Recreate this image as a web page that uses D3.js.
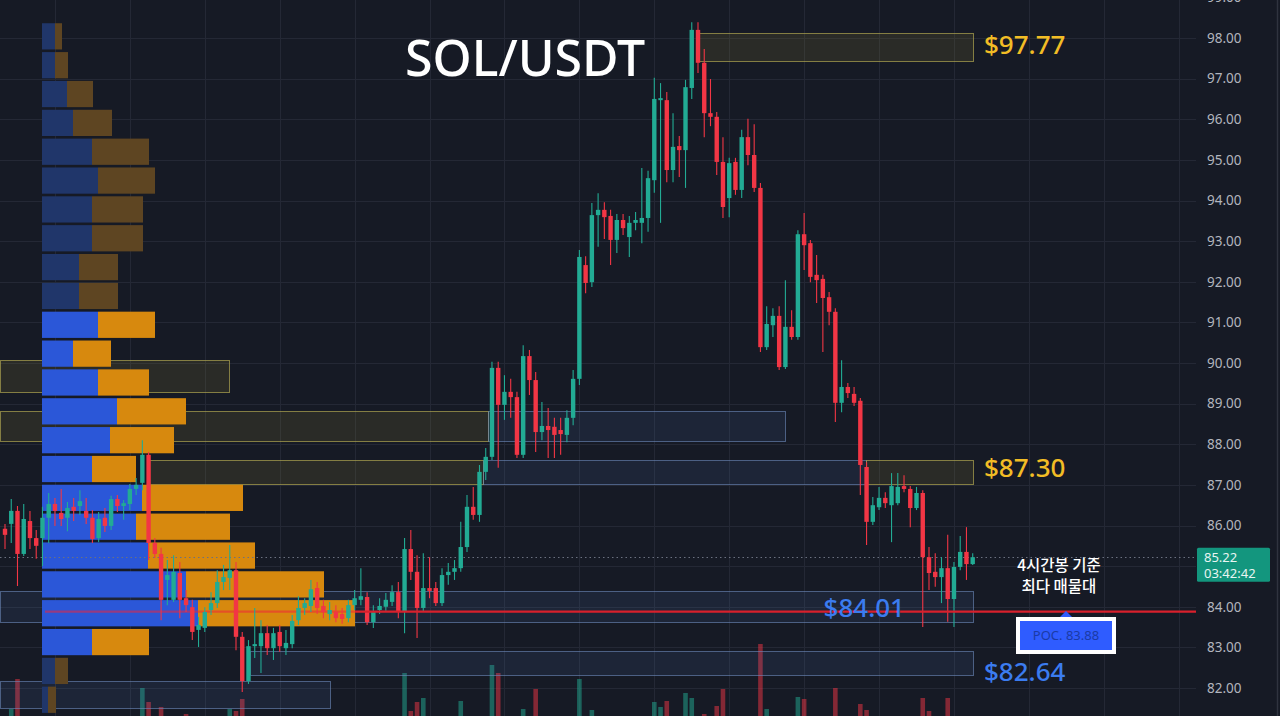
<!DOCTYPE html>
<html><head><meta charset="utf-8">
<script src="https://cdn.jsdelivr.net/npm/d3@7"></script>
<style>html,body{margin:0;padding:0;background:#161a25;overflow:hidden}svg{display:block}</style>
</head><body><svg id="c" width="1280" height="716"></svg>
<script>
// ---- candle data (4h SOL/USDT) ----
const open = [85.92,86.04,86.36,85.30,86.11,85.69,85.69,86.19,86.53,86.31,86.19,86.46,86.48,86.36,86.19,85.69,86.19,85.99,86.65,86.48,
86.53,86.90,87.05,87.74,85.57,85.30,84.66,84.17,84.83,84.21,83.99,83.43,83.48,83.92,84.09,84.61,84.71,84.90,83.26,82.17,
83.03,83.03,83.35,82.98,83.38,82.98,83.08,83.67,83.97,84.02,84.46,84.02,83.82,83.87,83.82,83.72,84.04,84.17,84.24,83.62,
83.92,84.00,84.12,84.36,83.87,85.42,84.86,83.97,84.46,84.46,84.09,84.78,84.86,84.95,85.47,86.46,86.26,87.32,87.69,89.88,
88.97,89.29,89.16,87.74,90.17,89.58,88.30,88.45,88.43,88.35,88.23,88.65,89.61,92.41,91.99,93.64,93.77,93.62,93.03,93.52,
93.10,93.45,93.45,93.57,94.50,96.47,96.47,94.75,95.34,95.24,96.77,98.20,97.39,96.15,96.06,94.95,94.06,94.95,94.26,95.56,
95.12,94.31,90.39,90.93,91.16,89.90,90.89,90.64,93.17,92.95,92.17,92.07,91.62,91.26,89.02,89.41,89.24,89.07,87.44,86.09,
86.45,86.68,86.50,86.55,86.97,86.90,86.43,86.80,85.22,84.86,84.73,84.95,84.19,84.98,85.35,85.05];
const high = [86.04,86.65,86.48,86.53,86.36,85.89,86.46,86.80,86.68,86.90,86.58,86.68,86.87,86.68,86.38,86.33,86.43,86.73,86.75,86.63,
87.02,87.17,88.10,87.81,85.69,85.45,85.15,85.27,85.10,84.41,84.17,83.75,83.99,84.36,84.90,85.03,85.52,85.10,83.38,83.18,
83.97,83.67,83.55,83.48,83.55,83.43,83.80,84.26,84.21,84.66,84.61,84.17,84.12,84.04,83.97,84.17,84.41,84.95,84.36,84.04,
84.21,84.34,84.53,84.61,85.69,85.89,85.27,85.32,85.22,84.61,84.95,85.08,85.15,86.09,86.75,86.95,87.49,87.91,90.03,90.03,
89.70,89.61,89.29,90.44,90.32,89.78,89.04,88.89,88.65,88.65,88.84,89.83,92.78,92.63,93.94,94.18,93.96,93.77,93.67,93.67,
93.62,93.72,94.80,94.73,97.02,96.89,96.67,96.15,95.59,96.97,98.39,98.39,97.73,96.99,96.18,95.56,95.05,95.05,95.74,96.01,
95.88,94.43,91.40,91.35,91.40,92.04,91.30,93.27,93.69,93.03,92.66,92.17,91.75,91.35,90.07,89.51,89.41,89.14,87.56,86.70,
86.95,86.82,87.29,87.29,87.24,86.97,86.95,86.87,85.47,85.32,85.22,85.77,85.10,85.74,85.96,85.32];
const low = [85.42,85.57,84.51,85.25,85.42,85.18,85.00,85.57,85.99,85.99,85.86,86.11,86.26,86.04,85.57,85.59,85.84,85.89,86.33,86.14,
86.38,86.75,86.87,85.15,85.20,83.67,84.04,84.12,83.72,83.87,83.18,83.01,83.38,83.80,83.97,84.41,84.41,82.93,81.90,82.10,
82.74,82.37,82.81,82.69,82.89,82.81,82.98,83.55,83.80,83.87,83.82,83.72,83.67,83.62,83.58,83.62,83.92,84.04,83.55,83.48,
83.82,83.90,84.02,83.72,83.35,84.66,83.23,83.87,84.21,84.02,84.02,84.54,84.66,84.86,85.35,86.14,86.09,87.12,87.61,87.42,
88.60,88.65,87.66,87.66,89.21,87.81,88.10,87.66,87.66,87.74,88.05,88.47,89.46,91.72,91.87,92.86,93.05,92.41,92.71,93.15,
92.61,93.27,92.95,93.23,94.19,93.45,94.45,94.45,94.58,94.31,96.50,97.14,95.56,95.83,94.63,93.57,93.59,94.14,94.06,94.87,
94.21,90.27,90.32,90.64,89.83,89.85,90.57,90.57,92.29,91.99,91.48,90.27,90.93,88.55,88.79,89.14,88.94,86.75,85.52,86.01,
86.38,86.43,85.59,86.50,86.82,85.96,86.38,83.50,84.41,84.49,84.09,83.63,83.50,84.90,84.66,85.03];
const close = [85.77,86.36,85.30,86.16,85.69,85.50,86.19,86.53,86.36,86.16,86.43,86.36,86.60,86.19,85.67,86.16,85.99,86.65,86.48,86.55,
86.90,87.00,87.74,85.57,85.30,84.17,84.78,84.86,84.17,84.04,83.38,83.55,83.87,84.09,84.61,84.73,84.90,83.26,82.17,83.03,
83.08,83.35,82.98,83.35,83.03,83.11,83.65,83.97,84.09,84.43,83.97,83.87,83.92,83.72,83.70,84.04,84.21,84.26,83.62,83.87,
84.02,84.17,84.36,83.87,85.42,84.86,83.97,84.46,84.39,84.09,84.78,84.86,84.95,85.47,86.46,86.26,87.32,87.69,89.88,88.97,
89.29,89.16,87.74,90.17,89.58,88.30,88.45,88.35,88.23,88.25,88.65,89.61,92.61,91.97,93.64,93.77,93.59,93.03,93.52,93.32,
93.45,93.52,93.57,94.55,96.50,96.52,94.75,95.32,95.24,96.79,98.20,97.39,96.15,96.06,94.95,93.84,94.92,94.26,95.56,95.12,
94.31,90.39,90.96,91.16,89.90,90.89,90.64,93.17,92.90,92.12,92.04,91.60,91.26,89.02,89.41,89.26,89.02,87.49,86.09,86.50,
86.68,86.55,86.97,86.95,86.90,86.43,86.80,85.22,84.83,84.73,84.95,84.19,84.98,85.35,85.05,85.22];
const volume = [12,31,61,14,10,9,15,11,13,10,12,9,11,14,16,10,12,15,9,11,
13,18,52,38,17,33,14,12,15,26,18,13,12,11,15,12,31,29,41,20,
16,18,14,12,13,11,15,17,12,19,14,11,10,12,11,13,12,16,14,12,
11,13,15,17,67,29,38,42,15,13,16,12,14,39,22,17,20,18,75,67,
18,16,21,31,19,51,16,14,13,12,15,20,61,22,30,16,14,18,15,13,
12,14,19,20,38,33,39,16,18,47,42,21,26,15,34,51,17,14,19,16,
18,96,31,14,20,18,16,43,41,17,15,19,14,52,18,13,12,36,30,17,
15,13,19,16,14,18,15,42,29,16,18,42,20,17,15,12];
const priceTicks = [82,83,84,85,86,87,88,89,90,91,92,93,94,95,96,97,98,99];
const lastPrice = 85.22;
const countdown = "03:42:42";
const pocPrice = 83.88;
// ---- volume profile (24 rows, top → bottom) ----
const profileTop = 98.393, profileStep = 0.71;
const profileBuy  = [13,13,25,31,50,56,50,50,37,37,56,31,56,75,68,50,100,94,106,144,156,50,13,6];
const profileSell = [7,13,26,39,57,57,51,51,39,39,57,38,51,69,64,44,101,94,107,138,157,57,13,8];
const valueAreaFirst = 10, valueAreaLast = 21;
// ---- zones (price range, candle-index range, kind) ----
const zoneHigh  = [98.12, 90.07, 88.82, 88.82, 87.61, 87.61, 87.61, 84.39, 82.91, 82.17];
const zoneLow   = [97.43, 89.29, 88.08, 88.08, 87.02, 87.02, 87.02, 83.63, 82.32, 81.51];
const zoneStart = [110.8, -0.8, -0.8, 77.4, 22.9, 76.6, 137.9, -0.8, 39.2, -0.8];
const zoneEnd   = [155, 35.9, 77.4, 124.9, 76.6, 137.9, 155, 155, 155, 52.1];
const zoneKind  = ["sell","sell","sell","buy","sell","buy","sell","buy","buy","buy"];
const levelLabels = ["$97.77","$87.30","$84.01","$82.64"];

const svg = d3.select("#c");
const W = 1280, H = 716, plotRight = 1196;
const x = d3.scaleLinear().domain([0, open.length - 1]).range([5, 972.7]);
const y = d3.scaleLinear().domain([82, 98]).range([688, 38]);
const yv = d3.scaleLinear().domain([0, 100]).range([740, 640]);
const px = d3.scaleLinear().domain([0, 100]).range([42, 142]);
const crisp = v => Math.round(v) + 0.5;

svg.append("rect").attr("width", W).attr("height", H).attr("fill", "#161a25");

// grid
const g = svg.append("g");
g.selectAll("line.h").data(priceTicks).join("line")
  .attr("x1", 0).attr("x2", plotRight).attr("y1", d => crisp(y(d))).attr("y2", d => crisp(y(d)))
  .attr("stroke", "#242835").attr("stroke-width", 1);
const vIdx = d3.range(8, 200, 12).filter(i => x(i) < plotRight);
g.selectAll("line.v").data(vIdx).join("line")
  .attr("x1", d => crisp(x(d))).attr("x2", d => crisp(x(d))).attr("y1", 0).attr("y2", H)
  .attr("stroke", "#242835").attr("stroke-width", 1);

// volume bars
const data = open.map((o, i) => ({i, o, h: high[i], l: low[i], c: close[i], v: volume[i]}));
svg.append("g").selectAll("rect").data(data).join("rect")
  .attr("x", d => x(d.i) - 2.3).attr("width", 4.6)
  .attr("y", d => yv(d.v)).attr("height", d => yv(0) - yv(d.v))
  .attr("fill", d => d.c >= d.o ? "#22ab94" : "#f23645").attr("opacity", 0.5);

// zones
const zones = zoneHigh.map((hi, k) => ({hi, lo: zoneLow[k], s: zoneStart[k], e: zoneEnd[k], kind: zoneKind[k]}));
svg.append("g").selectAll("rect").data(zones).join("rect")
  .attr("x", d => Math.round(x(d.s)) + 0.5).attr("width", d => Math.round(x(d.e) - x(d.s)))
  .attr("y", d => Math.round(y(d.hi)) + 0.5).attr("height", d => Math.round(y(d.lo) - y(d.hi)))
  .attr("fill", d => d.kind === "sell" ? "rgba(140,130,55,0.17)" : "rgba(80,120,190,0.12)")
  .attr("stroke", d => d.kind === "sell" ? "rgba(175,165,80,0.7)" : "rgba(110,140,190,0.6)")
  .attr("stroke-width", 1);

// volume profile
const rows = profileBuy.map((b, k) => ({k, b, s: profileSell[k],
  top: profileTop - k * profileStep, bot: profileTop - (k + 1) * profileStep,
  va: k >= valueAreaFirst && k <= valueAreaLast}));
const pg = svg.append("g");
pg.selectAll("rect.b").data(rows).join("rect")
  .attr("x", px(0)).attr("width", d => px(d.b) - px(0))
  .attr("y", d => y(d.top) + 1.2).attr("height", d => y(d.bot) - y(d.top) - 2.6)
  .attr("fill", d => d.va ? "#2b57d8" : "#20366a");
pg.selectAll("rect.s").data(rows).join("rect")
  .attr("x", d => px(d.b)).attr("width", d => px(d.b + d.s) - px(d.b))
  .attr("y", d => y(d.top) + 1.2).attr("height", d => y(d.bot) - y(d.top) - 2.6)
  .attr("fill", d => d.va ? "#d7890e" : "#5e4522");
// POC line inside profile
const pocRow = rows.find(r => pocPrice <= r.top && pocPrice > r.bot);
svg.append("line").attr("x1", px(0) + 3).attr("x2", px(pocRow.b + pocRow.s))
  .attr("y1", y(pocPrice)).attr("y2", y(pocPrice))
  .attr("stroke", "#f0243a").attr("stroke-width", 2.2).attr("opacity", 0.55);

// last price dotted line
svg.append("line").attr("x1", 0).attr("x2", plotRight)
  .attr("y1", crisp(y(lastPrice))).attr("y2", crisp(y(lastPrice)))
  .attr("stroke", "#6b7180").attr("stroke-width", 1).attr("stroke-dasharray", "1.5,3");

// candles
const cg = svg.append("g");
cg.selectAll("line").data(data).join("line")
  .attr("x1", d => x(d.i)).attr("x2", d => x(d.i))
  .attr("y1", d => y(d.h)).attr("y2", d => y(d.l))
  .attr("stroke", d => d.c >= d.o ? "#22ab94" : "#f23645").attr("stroke-width", 1.1);
cg.selectAll("rect").data(data).join("rect")
  .attr("x", d => x(d.i) - 2.2).attr("width", 4.4)
  .attr("y", d => y(Math.max(d.o, d.c))).attr("height", d => Math.max(1.2, Math.abs(y(d.o) - y(d.c))))
  .attr("fill", d => d.c >= d.o ? "#22ab94" : "#f23645");

// POC extension line
svg.append("line").attr("x1", px(pocRow.b + pocRow.s)).attr("x2", plotRight)
  .attr("y1", y(pocPrice)).attr("y2", y(pocPrice))
  .attr("stroke", "#d9202c").attr("stroke-width", 2.2);

// price axis
svg.append("line").attr("x1", 1277.5).attr("x2", 1277.5).attr("y1", 0).attr("y2", H)
  .attr("stroke", "#2f333f").attr("stroke-width", 1.5);
const tagTop = y(lastPrice) - 9.5, tagH = 34;
const visibleTicks = priceTicks.filter(t => y(t) + 8 < tagTop || y(t) - 8 > tagTop + tagH);
svg.append("g").selectAll("text").data(visibleTicks).join("text")
  .attr("x", 1207).attr("y", d => y(d)).attr("dy", "0.36em")
  .attr("font-family", "Noto Sans, DejaVu Sans, sans-serif").attr("font-size", 13.5)
  .attr("fill", "#b2b5be").text(d => d.toFixed(2));
// last price tag
svg.append("rect").attr("x", 1197).attr("y", tagTop).attr("width", 73).attr("height", tagH)
  .attr("rx", 1.5).attr("fill", "#13967e");
svg.append("text").attr("x", 1204).attr("y", y(lastPrice) + 4.5).attr("font-family", "Noto Sans, sans-serif")
  .attr("font-size", 13).attr("fill", "#e8f5f2").text(lastPrice.toFixed(2));
svg.append("text").attr("x", 1204).attr("y", y(lastPrice) + 20.5).attr("font-family", "Noto Sans, sans-serif")
  .attr("font-size", 13).attr("fill", "#e8f5f2").text(countdown);

// title
svg.append("text").attr("x", 405).attr("y", 76).attr("font-family", "Noto Sans, Open Sans, sans-serif")
  .attr("font-size", 50).attr("font-weight", 500).attr("fill", "#ffffff").text("SOL/USDT");

// level labels
const lf = "Noto Sans, Open Sans, sans-serif";
svg.append("text").attr("x", 984).attr("y", 54).attr("font-family", lf).attr("font-size", 26).attr("font-weight", 500)
  .attr("fill", "#f2bd25").text(levelLabels[0]);
svg.append("text").attr("x", 984).attr("y", 477).attr("font-family", lf).attr("font-size", 26).attr("font-weight", 500)
  .attr("fill", "#f2bd25").text(levelLabels[1]);
svg.append("text").attr("x", 905).attr("y", 617).attr("text-anchor", "end").attr("font-family", lf).attr("font-size", 26)
  .attr("font-weight", 500).attr("fill", "#3b7cf0").text(levelLabels[2]);
svg.append("text").attr("x", 984).attr("y", 681).attr("font-family", lf).attr("font-size", 26).attr("font-weight", 500)
  .attr("fill", "#3b7cf0").text(levelLabels[3]);

// annotation
const kf = "Noto Sans CJK KR, Noto Sans, sans-serif";
svg.append("text").attr("x", 1059).attr("y", 571).attr("text-anchor", "middle").attr("font-family", kf)
  .attr("font-size", 15.5).attr("font-weight", 500).attr("fill", "#ffffff").text("4시간봉 기준");
svg.append("text").attr("x", 1059).attr("y", 592).attr("text-anchor", "middle").attr("font-family", kf)
  .attr("font-size", 15.5).attr("font-weight", 500).attr("fill", "#ffffff").text("최다 매물대");

// POC badge
svg.append("path").attr("d", "M1060,617 L1066,611 L1072,617 Z").attr("fill", "#2f5cff");
svg.append("rect").attr("x", 1016).attr("y", 617).attr("width", 100).attr("height", 37).attr("fill", "#ffffff");
svg.append("rect").attr("x", 1020).attr("y", 621).attr("width", 92).attr("height", 29).attr("fill", "#2f5cff");
svg.append("text").attr("x", 1066).attr("y", 640).attr("text-anchor", "middle").attr("font-family", "Noto Sans, sans-serif")
  .attr("font-size", 13).attr("fill", "#1b3aa6").text("POC. " + pocPrice.toFixed(2));
</script></body></html>
